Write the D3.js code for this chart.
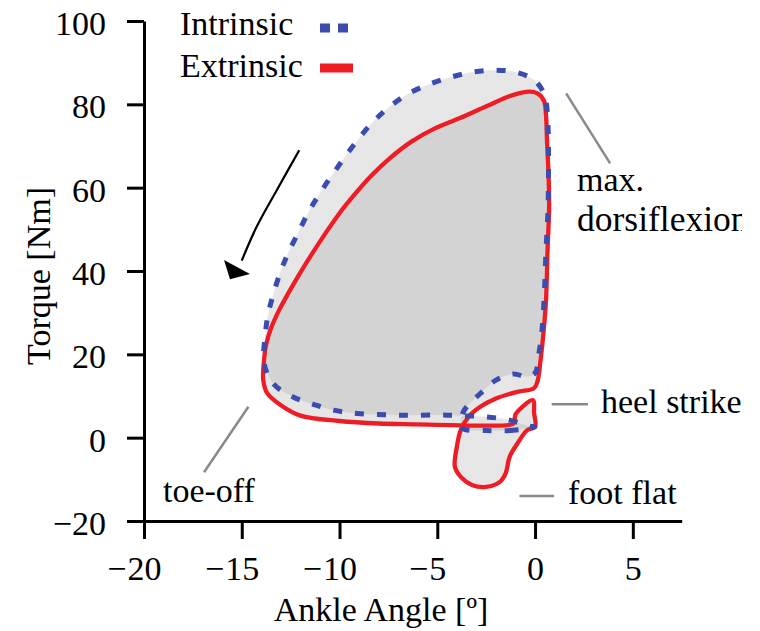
<!DOCTYPE html>
<html>
<head>
<meta charset="utf-8">
<script src="https://cdnjs.cloudflare.com/ajax/libs/d3/7.8.5/d3.min.js"></script>
<style>
    body { margin: 0; background: #fff; }
    svg { display: block; font-family: "Liberation Serif", "Times New Roman", serif; }
</style>
</head>
<body>
<svg id="chart" width="760" height="631"></svg>
<script>
// extrinsic loop (red), gait order starting at heel strike
var extrinsicAngle = [-0.1, -1.0, -1.1, -2.5, -4.3, -6.0, -8.0, -10.0, -12.0, -13.0, -13.7, -13.9, -13.86, -13.76, -13.5, -13.09, -12.58, -12.02, -11.41, -10.74, -10.03, -9.26, -8.39, -7.42, -6.34, -5.17, -3.84, -2.46, -1.28, -0.46, 0.1, 0.46, 0.56, 0.61, 0.69, 0.72, 0.64, 0.56, 0.43, 0.28, 0.13, -0.05, -0.9, -2.0, -2.8, -3.4, -3.8, -4.0, -4.1, -3.8, -3.2, -2.5, -1.8, -1.5, -1.3, -0.9, -0.4, 0.0, -0.05]
var extrinsicTorque = [9.0, 5.6, 3.4, 2.9, 3.0, 3.2, 3.4, 4.0, 5.3, 7.8, 10.7, 13.8, 18.6, 22.2, 26.3, 30.6, 35.0, 39.5, 44.1, 48.9, 53.7, 58.2, 62.8, 67.1, 71.0, 74.1, 76.7, 79.6, 82.0, 83.0, 82.7, 80.8, 77.4, 71.4, 63.0, 55.8, 45.0, 33.0, 25.1, 18.6, 13.6, 11.9, 11.0, 9.4, 7.4, 5.0, 1.8, -2.2, -7.0, -9.4, -11.4, -11.8, -10.6, -8.5, -4.6, -1.4, 1.8, 2.6, 6.0]

// intrinsic loop (blue dotted)
var intrinsicAngle = [0.0, -1.1, -2.5, -3.7, -3.8, -3.7, -3.5, -2.8, -2.0, -1.1, -0.4, 0.0, 0.2, 0.34, 0.46, 0.56, 0.66, 0.69, 0.66, 0.56, 0.31, -0.2, -1.07, -2.1, -3.12, -4.25, -5.37, -6.5, -7.52, -8.44, -9.31, -10.13, -10.9, -11.56, -12.12, -12.63, -13.04, -13.4, -13.66, -13.81, -13.86, -13.4, -12.4, -11.4, -10.3, -9.1, -6.9, -4.5, -2.5, -1.3, -0.3]
var intrinsicTorque = [2.6, 1.8, 1.7, 2.2, 3.8, 5.9, 7.4, 10.6, 13.8, 15.3, 14.6, 15.5, 20.3, 25.1, 33.0, 45.0, 54.6, 69.0, 75.0, 80.6, 83.9, 86.3, 87.8, 88.2, 87.8, 86.6, 84.9, 82.5, 79.1, 75.0, 70.0, 64.7, 59.4, 54.4, 49.1, 44.3, 39.5, 34.2, 29.4, 24.2, 17.9, 13.0, 9.8, 8.1, 6.6, 5.8, 5.4, 5.4, 5.0, 4.2, 2.8]

var xTicks = [-20, -15, -10, -5, 0, 5]
var yTicks = [-20, 0, 20, 40, 60, 80, 100]

var seriesNames = ["Intrinsic", "Extrinsic"]

var red = "#ee1c25"
var blue = "#3a4cb0"
var gray = "#8a8a8a"

var svg = d3.select("#chart")

var x = d3.scaleLinear().domain([-20, 7.5]).range([144, 681.7])
var y = d3.scaleLinear().domain([-20, 100]).range([521, 21])

function pairs(a, b) {
    return a.map(function (d, i) { return [d, b[i]]; })
}
var extrinsic = pairs(extrinsicAngle, extrinsicTorque)
var intrinsic = pairs(intrinsicAngle, intrinsicTorque)

var loop = d3.line()
    .x(function (d) { return x(d[0]); })
    .y(function (d) { return y(d[1]); })
    .curve(d3.curveCatmullRomClosed.alpha(0.5))

// translucent fills, overlap gives the darker grey
svg.selectAll(".area")
    .data([intrinsic, extrinsic])
    .enter().append("path")
    .attr("d", loop)
    .attr("fill", "#a0a0a0")
    .attr("fill-opacity", 0.26)
    .attr("stroke", "none")

svg.append("path")
    .attr("d", loop(extrinsic))
    .attr("fill", "none")
    .attr("stroke", red)
    .attr("stroke-width", 4.3)
    .attr("stroke-linejoin", "round")

svg.append("path")
    .attr("d", loop(intrinsic))
    .attr("fill", "none")
    .attr("stroke", blue)
    .attr("stroke-width", 5)
    .attr("stroke-dasharray", "9,13")

// y axis
var yAxis = svg.append("g")
    .attr("transform", "translate(144,0)")
    .call(d3.axisLeft(y).tickValues(yTicks).tickSize(17).tickPadding(21).tickSizeOuter(0)
        .tickFormat(function (d) { return d < 0 ? "\u2212" + (-d) : d; }))
yAxis.attr("font-size", 34).attr("font-family", null)
yAxis.selectAll("path, line").attr("stroke", "#000").attr("stroke-width", 3)
yAxis.selectAll("text").attr("fill", "#000").attr("dy", "0.4em")

// x axis, digits centred on the tick, minus hangs to the left
var xAxis = svg.append("g")
    .attr("transform", "translate(0,521)")
    .call(d3.axisBottom(x).tickValues(xTicks).tickSize(18).tickSizeOuter(0)
        .tickFormat(function (d) { return Math.abs(d); }))
xAxis.attr("font-size", 34).attr("font-family", null)
xAxis.selectAll("path, line").attr("stroke", "#000").attr("stroke-width", 3)
xAxis.selectAll("text").attr("fill", "#000").attr("y", 59).attr("dy", 0)
xAxis.selectAll(".tick").filter(function (d) { return d < 0; })
    .append("text")
    .attr("fill", "#000")
    .attr("text-anchor", "end")
    .attr("x", function (d) { return -String(Math.abs(d)).length * 8.5 - 1; })
    .attr("y", 59)
    .text("\u2212")

svg.append("text")
    .attr("x", 381).attr("y", 621)
    .attr("text-anchor", "middle")
    .attr("font-size", 34)
    .text("Ankle Angle [\u00ba]")

svg.append("text")
    .attr("transform", "translate(50,276) rotate(-90)")
    .attr("text-anchor", "middle")
    .attr("font-size", 34)
    .text("Torque [Nm]")

// legend
var legend = svg.append("g").attr("font-size", 34)
legend.selectAll("text")
    .data(seriesNames)
    .enter().append("text")
    .attr("x", 180)
    .attr("y", function (d, i) { return 35 + i * 42; })
    .text(function (d) { return d; })
legend.append("line")
    .attr("x1", 320).attr("x2", 348).attr("y1", 28).attr("y2", 28)
    .attr("stroke", blue).attr("stroke-width", 9).attr("stroke-dasharray", "10,8")
legend.append("line")
    .attr("x1", 320).attr("x2", 353).attr("y1", 68).attr("y2", 68)
    .attr("stroke", red).attr("stroke-width", 9)

// annotations
var notes = [
    { from: [1.59, 82.65], to: [3.84, 65.85] },
    { from: [0.85, 8.0], to: [2.71, 8.0] },
    { from: [-0.8, -14.0], to: [0.97, -14.0] },
    { from: [-16.93, -8.3], to: [-14.66, 7.43] }
]
svg.selectAll(".note")
    .data(notes)
    .enter().append("line")
    .attr("x1", function (d) { return x(d.from[0]); })
    .attr("y1", function (d) { return y(d.from[1]); })
    .attr("x2", function (d) { return x(d.to[0]); })
    .attr("y2", function (d) { return y(d.to[1]); })
    .attr("stroke", gray)
    .attr("stroke-width", 2.5)

svg.append("clipPath").attr("id", "edge")
    .append("rect").attr("x", 0).attr("y", 0).attr("width", 742).attr("height", 631)

var labels = svg.append("g").attr("font-size", 34).attr("clip-path", "url(#edge)")
labels.append("text").attr("x", 577).attr("y", 191).text("max.")
labels.append("text").attr("x", 577).attr("y", 231).attr("font-size", 35.5).text("dorsiflexion")
labels.append("text").attr("x", 601).attr("y", 413).text("heel strike")
labels.append("text").attr("x", 568).attr("y", 504).text("foot flat")
labels.append("text").attr("x", 163).attr("y", 502).text("toe-off")

// direction arrow
var arrowPts = [[-12.06, 69.0], [-13.21, 59.4], [-14.24, 50.6], [-15.0, 42.5]]
svg.append("path")
    .attr("d", d3.line().x(function (d) { return x(d[0]); }).y(function (d) { return y(d[1]); })
        .curve(d3.curveCatmullRom)(arrowPts))
    .attr("fill", "none")
    .attr("stroke", "#000")
    .attr("stroke-width", 2.2)

var headPts = [[-15.6, 38.0], [-15.91, 42.64], [-14.58, 39.28]]
svg.append("polygon")
    .attr("points", headPts.map(function (d) { return x(d[0]) + "," + y(d[1]); }).join(" "))
    .attr("fill", "#000")
</script>
</body>
</html>
